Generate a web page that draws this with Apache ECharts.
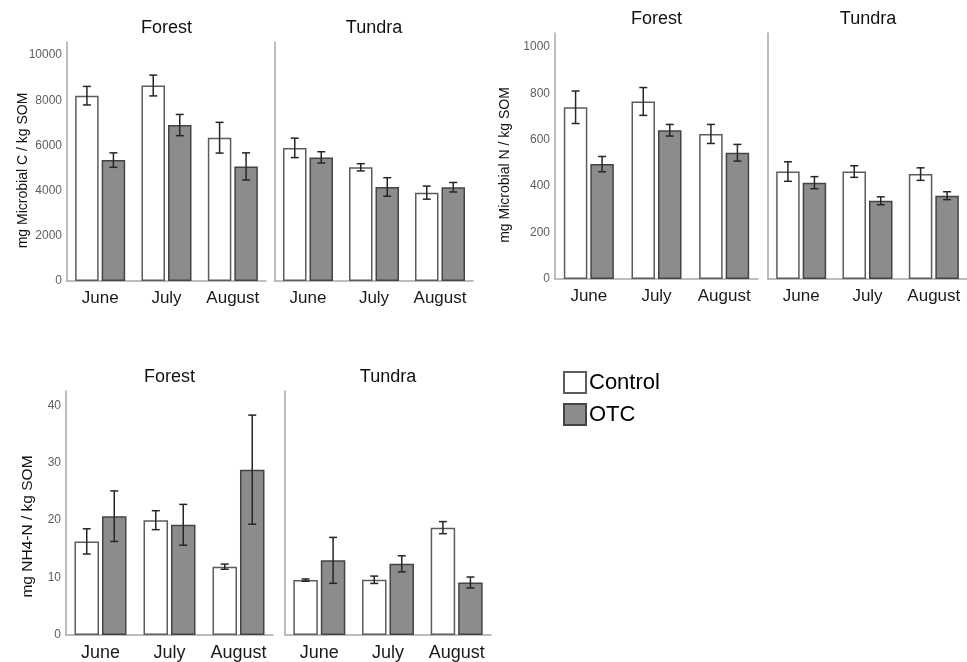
<!DOCTYPE html>
<html>
<head>
<meta charset="utf-8">
<script src="https://cdn.jsdelivr.net/npm/echarts@6/dist/echarts.min.js"></script>
<style>
html,body{margin:0;padding:0;background:#fff;}
#chart{width:967px;height:662px;}
</style>
</head>
<body>
<div id="chart"></div>
<script>
// ---------- DATA ----------
const months = ['June', 'July', 'August'];
const sites = ['Forest', 'Tundra'];
const groups = ['Control', 'OTC'];

// Microbial C (mg / kg SOM)
const cForestControl    = [8200, 8650, 6340];
const cForestControlErr = [410, 460, 680];
const cForestOTC        = [5350, 6900, 5070];
const cForestOTCErr     = [320, 470, 600];
const cTundraControl    = [5890, 5030, 3910];
const cTundraControlErr = [430, 160, 290];
const cTundraOTC        = [5470, 4160, 4150];
const cTundraOTCErr     = [250, 410, 210];

// Microbial N (mg / kg SOM)
const nForestControl    = [740, 765, 625];
const nForestControlErr = [70, 60, 41];
const nForestOTC        = [495, 641, 544];
const nForestOTCErr     = [33, 25, 36];
const nTundraControl    = [463, 463, 452];
const nTundraControlErr = [42, 25, 27];
const nTundraOTC        = [415, 337, 359];
const nTundraOTCErr     = [26, 17, 17];

// NH4-N (mg / kg SOM)
const hForestControl    = [16.3, 20.0, 11.9];
const hForestControlErr = [2.2, 1.65, 0.45];
const hForestOTC        = [20.7, 19.2, 28.8];
const hForestOTCErr     = [4.4, 3.55, 9.5];
const hTundraControl    = [9.56, 9.62, 18.7];
const hTundraControlErr = [0.2, 0.64, 1.05];
const hTundraOTC        = [13.0, 12.4, 9.15];
const hTundraOTCErr     = [4.0, 1.4, 0.95];

// y-axis tick settings
const cTickInterval = 2000;
const nTickInterval = 200;
const hTickInterval = 10;

const axisNames = ['mg Microbial C / kg SOM', 'mg Microbial N / kg SOM', 'mg NH4-N / kg SOM'];

// ---------- LAYOUT ----------
const panels = [
  { name: axisNames[0], interval: cTickInterval, max: 10575, top: 42, height: 239,
    grids: [{ left: 67, width: 199 }, { left: 275, width: 198 }],
    data: [[cForestControl, cForestControlErr, cForestOTC, cForestOTCErr],
           [cTundraControl, cTundraControlErr, cTundraOTC, cTundraOTCErr]],
    bw: 23.5, gap: 3, catFont: 17, nameFont: 14, nameGap: 37, namePad: 18, titleTop: 19 },
  { name: axisNames[1], interval: nTickInterval, max: 1060, top: 33, height: 246,
    grids: [{ left: 555, width: 203 }, { left: 768, width: 200 }],
    data: [[nForestControl, nForestControlErr, nForestOTC, nForestOTCErr],
           [nTundraControl, nTundraControlErr, nTundraOTC, nTundraOTCErr]],
    bw: 23.5, gap: 3, catFont: 17, nameFont: 14, nameGap: 43, namePad: 18, titleTop: 10 },
  { name: axisNames[2], interval: hTickInterval, max: 42.5, top: 391, height: 246,
    grids: [{ left: 66, width: 207 }, { left: 285, width: 206 }],
    data: [[hForestControl, hForestControlErr, hForestOTC, hForestOTCErr],
           [hTundraControl, hTundraControlErr, hTundraOTC, hTundraOTCErr]],
    bw: 24.5, gap: 3, catFont: 18, nameFont: 15.5, nameGap: 30, namePad: 27, titleTop: 368 }
];

const AXIS_COLOR = '#a8a8a8';
const CONTROL_FILL = '#ffffff';
const CONTROL_BORDER = '#5c5c5c';
const OTC_FILL = '#8c8c8c';
const OTC_BORDER = '#444444';
const ERR_COLOR = '#262626';
const FONT = 'Liberation Sans, Arial, sans-serif';

const grid = [], xAxis = [], yAxis = [], series = [], title = [];

function errorSeries(gi, means, errs, offset) {
  return {
    type: 'custom',
    name: 'err',
    xAxisIndex: gi, yAxisIndex: gi,
    silent: true,
    z: 5,
    encode: { x: 0, y: 1 },
    data: means.map((m, i) => [i, m, errs[i]]),
    renderItem: function (params, api) {
      const i = api.value(0), m = api.value(1), e = api.value(2);
      const c = api.coord([i, m]);
      const t = api.coord([i, m + e]);
      const b = api.coord([i, m - e]);
      const x = c[0] + offset;
      const cap = 4;
      const style = { stroke: ERR_COLOR, lineWidth: 1.5 };
      return {
        type: 'group',
        children: [
          { type: 'line', shape: { x1: x, y1: t[1], x2: x, y2: b[1] }, style },
          { type: 'line', shape: { x1: x - cap, y1: t[1], x2: x + cap, y2: t[1] }, style },
          { type: 'line', shape: { x1: x - cap, y1: b[1], x2: x + cap, y2: b[1] }, style }
        ]
      };
    }
  };
}

panels.forEach((p, pi) => {
  p.grids.forEach((g, si) => {
    const gi = grid.length;
    grid.push({ left: g.left, width: g.width, top: p.top, height: p.height, containLabel: false });
    xAxis.push({
      type: 'category', gridIndex: gi, data: months,
      axisLine: { show: true, lineStyle: { color: AXIS_COLOR, width: 1.5 } },
      axisTick: { show: false },
      axisLabel: { fontSize: p.catFont, color: '#1a1a1a', margin: 9, fontFamily: FONT, interval: 0 },
      splitLine: { show: false }
    });
    yAxis.push({
      type: 'value', gridIndex: gi, min: 0, max: p.max, interval: p.interval,
      axisLine: { show: true, lineStyle: { color: AXIS_COLOR, width: 1.5 } },
      axisTick: { show: false },
      splitLine: { show: false },
      axisLabel: { show: si === 0, fontSize: 12, color: '#5e5e5e', margin: 5, showMaxLabel: false,
                   fontFamily: FONT, formatter: v => String(v) },
      name: si === 0 ? p.name : '',
      nameLocation: 'middle',
      nameGap: p.nameGap,
      nameMoveOverlap: false,
      nameTextStyle: { fontSize: p.nameFont, color: '#111', fontFamily: FONT, padding: [0, p.namePad, 0, 0] }
    });
    title.push({
      text: sites[si],
      left: g.left + g.width / 2, top: p.titleTop, textAlign: 'center', padding: 0,
      textStyle: { fontSize: 18, fontWeight: 'normal', color: '#111', fontFamily: FONT }
    });
    const d = p.data[si];
    const off = (p.bw + p.gap) / 2;
    const gapPct = (p.gap / p.bw * 100).toFixed(1) + '%';
    series.push({
      type: 'bar', name: groups[0], xAxisIndex: gi, yAxisIndex: gi, data: d[0],
      barWidth: p.bw, barGap: gapPct,
      itemStyle: { color: CONTROL_FILL, borderColor: CONTROL_BORDER, borderWidth: 1.5 },
      emphasis: { disabled: true }
    });
    series.push({
      type: 'bar', name: groups[1], xAxisIndex: gi, yAxisIndex: gi, data: d[2],
      barWidth: p.bw, barGap: gapPct,
      itemStyle: { color: OTC_FILL, borderColor: OTC_BORDER, borderWidth: 1.5 },
      emphasis: { disabled: true }
    });
    series.push(errorSeries(gi, d[0], d[1], -off));
    series.push(errorSeries(gi, d[2], d[3], off));
  });
});

const chart = echarts.init(document.getElementById('chart'), null, { renderer: 'canvas' });
chart.setOption({
  animation: false,
  backgroundColor: '#ffffff',
  textStyle: { fontFamily: FONT },
  title,
  grid, xAxis, yAxis, series,
  legend: {
    data: groups, orient: 'vertical', left: 563, top: 371, padding: 0,
    itemWidth: 22, itemHeight: 21, itemGap: 9, icon: 'rect',
    textStyle: { fontSize: 22, color: '#000', fontFamily: FONT, padding: [0, 0, 0, -2] },
    selectedMode: false
  }
});
</script>
</body>
</html>
